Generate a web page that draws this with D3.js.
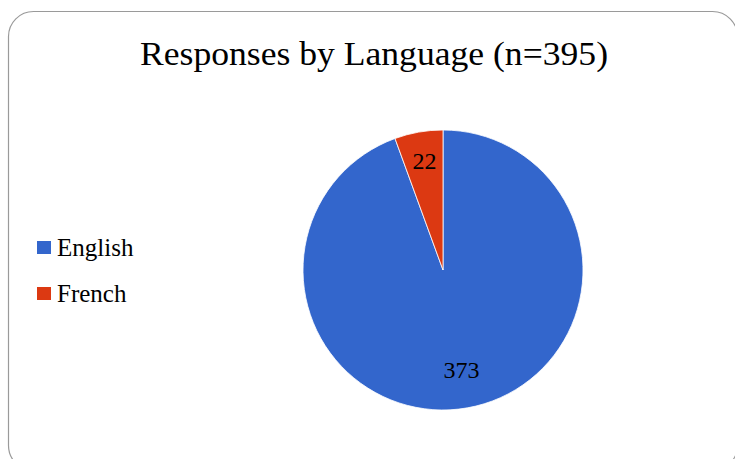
<!DOCTYPE html>
<html>
<head>
<meta charset="utf-8">
<script src="https://cdn.jsdelivr.net/npm/d3@7"></script>
<style>
  html, body { margin: 0; padding: 0; background: #fff; }
  svg { display: block; }
</style>
</head>
<body>
<div id="chart"></div>
<script>
  // Data
  const languages = ["English", "French"];
  const responses = [373, 22];
  const colors = ["#3366cc", "#dc3912"];
  const title = "Responses by Language (n=395)";

  const width = 735;
  const height = 459;
  const font = "'Liberation Serif', 'Times New Roman', serif";

  const svg = d3.select("#chart").append("svg")
    .attr("width", width)
    .attr("height", height);

  // Frame
  svg.append("rect")
    .attr("x", 8.5)
    .attr("y", 11.5)
    .attr("width", 729)
    .attr("height", 459)
    .attr("rx", 25)
    .attr("fill", "none")
    .attr("stroke", "#9a9a9a")
    .attr("stroke-width", 1.2);

  // Title
  svg.append("text")
    .attr("x", 374)
    .attr("y", 65)
    .attr("text-anchor", "middle")
    .attr("font-family", font)
    .attr("font-size", 33)
    .attr("textLength", 468)
    .attr("lengthAdjust", "spacingAndGlyphs")
    .attr("fill", "#000")
    .text(title);

  // Pie
  const cx = 443, cy = 270, radius = 140;
  const pie = d3.pie().sort(null).value(d => d);
  const arc = d3.arc().innerRadius(0).outerRadius(radius);
  const labelArc = d3.arc().innerRadius(106).outerRadius(106);

  const g = svg.append("g").attr("transform", `translate(${cx},${cy})`);
  const arcs = pie(responses);

  g.selectAll("path")
    .data(arcs)
    .enter()
    .append("path")
    .attr("d", arc)
    .attr("fill", (d, i) => colors[i])
    .attr("stroke", "#fff")
    .attr("stroke-width", 0.8);

  g.selectAll("text")
    .data(arcs)
    .enter()
    .append("text")
    .attr("transform", d => {
      const [x, y] = labelArc.centroid(d);
      return `translate(${x},${y})`;
    })
    .attr("dy", "0.15em")
    .attr("text-anchor", "middle")
    .attr("font-family", font)
    .attr("font-size", 24)
    .attr("fill", "#000")
    .text(d => d.data);

  // Legend
  const legend = svg.append("g").attr("transform", "translate(37,241)");
  const items = legend.selectAll("g")
    .data(languages)
    .enter()
    .append("g")
    .attr("transform", (d, i) => `translate(0,${i * 46})`);

  items.append("rect")
    .attr("width", 14)
    .attr("height", 13)
    .attr("fill", (d, i) => colors[i]);

  items.append("text")
    .attr("x", 20)
    .attr("y", 15)
    .attr("font-family", font)
    .attr("font-size", 25)
    .attr("fill", "#000")
    .text(d => d);
</script>
</body>
</html>
